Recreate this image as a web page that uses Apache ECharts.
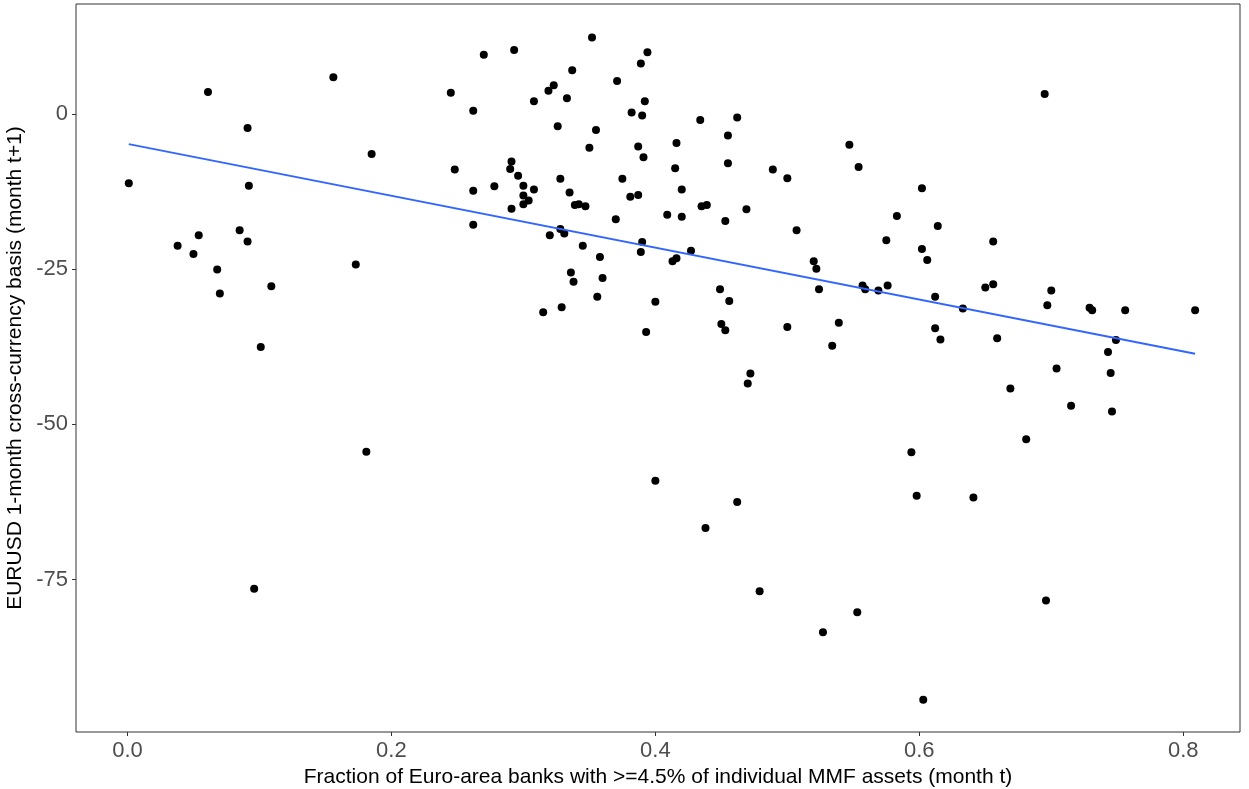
<!DOCTYPE html>
<html>
<head>
<meta charset="utf-8">
<script src="https://cdn.jsdelivr.net/npm/echarts@6/dist/echarts.min.js"></script>
<style>
  html, body { margin: 0; padding: 0; background: #fff; }
  #chart { width: 1249px; height: 789px; }
</style>
</head>
<body>
<div id="chart"></div>
<script>
// share of euro-area banks (month t)
const fracBanks = [
  0.001, 0.061, 0.156, 0.091, 0.185, 0.092, 0.085, 0.054, 0.038, 0.091,
  0.050, 0.068, 0.173, 0.109, 0.070, 0.101, 0.096, 0.181, 0.245, 0.248,
  0.262, 0.352, 0.270, 0.293, 0.394, 0.389, 0.337, 0.371, 0.323, 0.319,
  0.308, 0.333, 0.392, 0.262, 0.382, 0.390, 0.434, 0.326, 0.355, 0.350,
  0.387, 0.416, 0.391, 0.291, 0.290, 0.415, 0.296, 0.328, 0.375, 0.278,
  0.300, 0.262, 0.308, 0.335, 0.420, 0.300, 0.387, 0.381, 0.304, 0.300,
  0.339, 0.342, 0.347, 0.291, 0.409, 0.420, 0.370, 0.435, 0.439, 0.320,
  0.328, 0.331, 0.345, 0.390, 0.389, 0.427, 0.416, 0.413, 0.358, 0.336,
  0.338, 0.360, 0.356, 0.400, 0.329, 0.315, 0.393, 0.462, 0.455, 0.455,
  0.547, 0.554, 0.489, 0.500, 0.602, 0.469, 0.453, 0.583, 0.614, 0.507,
  0.575, 0.602, 0.606, 0.520, 0.522, 0.524, 0.557, 0.559, 0.569, 0.576,
  0.612, 0.633, 0.449, 0.456, 0.450, 0.453, 0.500, 0.539, 0.534, 0.612,
  0.616, 0.472, 0.470, 0.656, 0.650, 0.656, 0.700, 0.697, 0.729, 0.731,
  0.756, 0.809, 0.659, 0.749, 0.743, 0.704, 0.745, 0.669, 0.715, 0.746,
  0.681, 0.695, 0.400, 0.462, 0.438, 0.479, 0.527, 0.553, 0.594, 0.598,
  0.641, 0.603, 0.696
]
// EURUSD 1m cross-currency basis (month t+1)
const basis = [
  -11.1, 3.6, 6.0, -2.2, -6.4, -11.5, -18.7, -19.5, -21.2, -20.5,
  -22.5, -25.0, -24.2, -27.7, -28.9, -37.5, -76.5, -54.4, 3.5, -8.9,
  -17.8, 12.4, 9.6, 10.4, 10.0, 8.2, 7.1, 5.4, 4.7, 3.8,
  2.1, 2.6, 2.1, 0.6, 0.3, -0.2, -0.9, -1.9, -2.5, -5.4,
  -5.2, -4.6, -6.9, -7.6, -8.8, -8.7, -9.9, -10.4, -10.4, -11.6,
  -11.5, -12.3, -12.1, -12.6, -12.1, -13.1, -13.0, -13.3, -13.9, -14.5,
  -14.6, -14.5, -14.8, -15.2, -16.2, -16.5, -16.9, -14.8, -14.6, -19.5,
  -18.5, -19.2, -21.2, -20.6, -22.2, -22.0, -23.2, -23.7, -23.0, -25.5,
  -27.0, -26.4, -29.4, -30.2, -31.1, -31.9, -35.1, -0.5, -3.4, -7.9,
  -4.9, -8.5, -8.9, -10.3, -11.9, -15.3, -17.2, -16.4, -18.0, -18.7,
  -20.3, -21.7, -23.5, -23.7, -24.9, -28.2, -27.6, -28.2, -28.4, -27.6,
  -29.4, -31.3, -28.2, -30.1, -33.8, -34.8, -34.3, -33.6, -37.3, -34.5,
  -36.3, -41.8, -43.4, -20.5, -27.9, -27.4, -28.4, -30.8, -31.2, -31.6,
  -31.6, -31.6, -36.1, -36.4, -38.3, -41.0, -41.7, -44.2, -47.0, -47.9,
  -52.4, 3.3, -59.1, -62.5, -66.7, -76.9, -83.5, -80.3, -54.5, -61.5,
  -61.8, -94.4, -78.4
]
// linear fit line, ends
const fitX = [0.001, 0.809]
const fitY = [-4.8, -38.6]

const xTicks = [0, 0.2, 0.4, 0.6, 0.8]
const yTicks = [-75, -50, -25, 0]

const chart = echarts.init(document.getElementById('chart'))

const font = "'Liberation Sans', Arial, sans-serif"

const option = {
  animation: false,
  backgroundColor: '#fff',
  grid: {
    left: 76,
    right: 9,
    top: 4,
    bottom: 57,
    containLabel: false,
    outerBoundsMode: 'none',
    show: true,
    borderColor: '#333',
    borderWidth: 1
  },
  xAxis: {
    type: 'value',
    min: -0.039,
    max: 0.843,
    name: 'Fraction of Euro-area banks with >=4.5% of individual MMF assets (month t)',
    nameLocation: 'middle',
    nameGap: 32,
    nameTextStyle: { color: '#000', fontSize: 21, fontFamily: font },
    axisLine: { show: false, onZero: false },
    axisTick: { show: true, length: 4, customValues: xTicks, lineStyle: { color: '#333' } },
    axisLabel: {
      customValues: xTicks,
      color: '#4d4d4d',
      fontSize: 22,
      fontFamily: font,
      margin: 8,
      formatter: v => v.toFixed(1)
    },
    splitLine: { show: false }
  },
  yAxis: {
    type: 'value',
    min: -99.6,
    max: 17.8,
    name: 'EURUSD 1-month cross-currency basis (month t+1)',
    nameLocation: 'middle',
    nameGap: 45,
    nameTextStyle: { color: '#000', fontSize: 21, fontFamily: font },
    axisLine: { show: false, onZero: false },
    axisTick: { show: true, length: 4, customValues: yTicks, lineStyle: { color: '#333' } },
    axisLabel: {
      customValues: yTicks,
      color: '#4d4d4d',
      fontSize: 22,
      fontFamily: font,
      margin: 8
    },
    splitLine: { show: false }
  },
  series: [
    {
      name: 'points',
      type: 'scatter',
      data: fracBanks.map((x, i) => [x, basis[i]]),
      symbol: 'circle',
      symbolSize: 8,
      itemStyle: { color: '#000', opacity: 1 },
      z: 2
    },
    {
      name: 'fit',
      type: 'line',
      data: fitX.map((x, i) => [x, fitY[i]]),
      showSymbol: false,
      lineStyle: { color: '#3366FF', width: 2 },
      z: 3
    }
  ]
}

chart.setOption(option)
</script>
</body>
</html>
